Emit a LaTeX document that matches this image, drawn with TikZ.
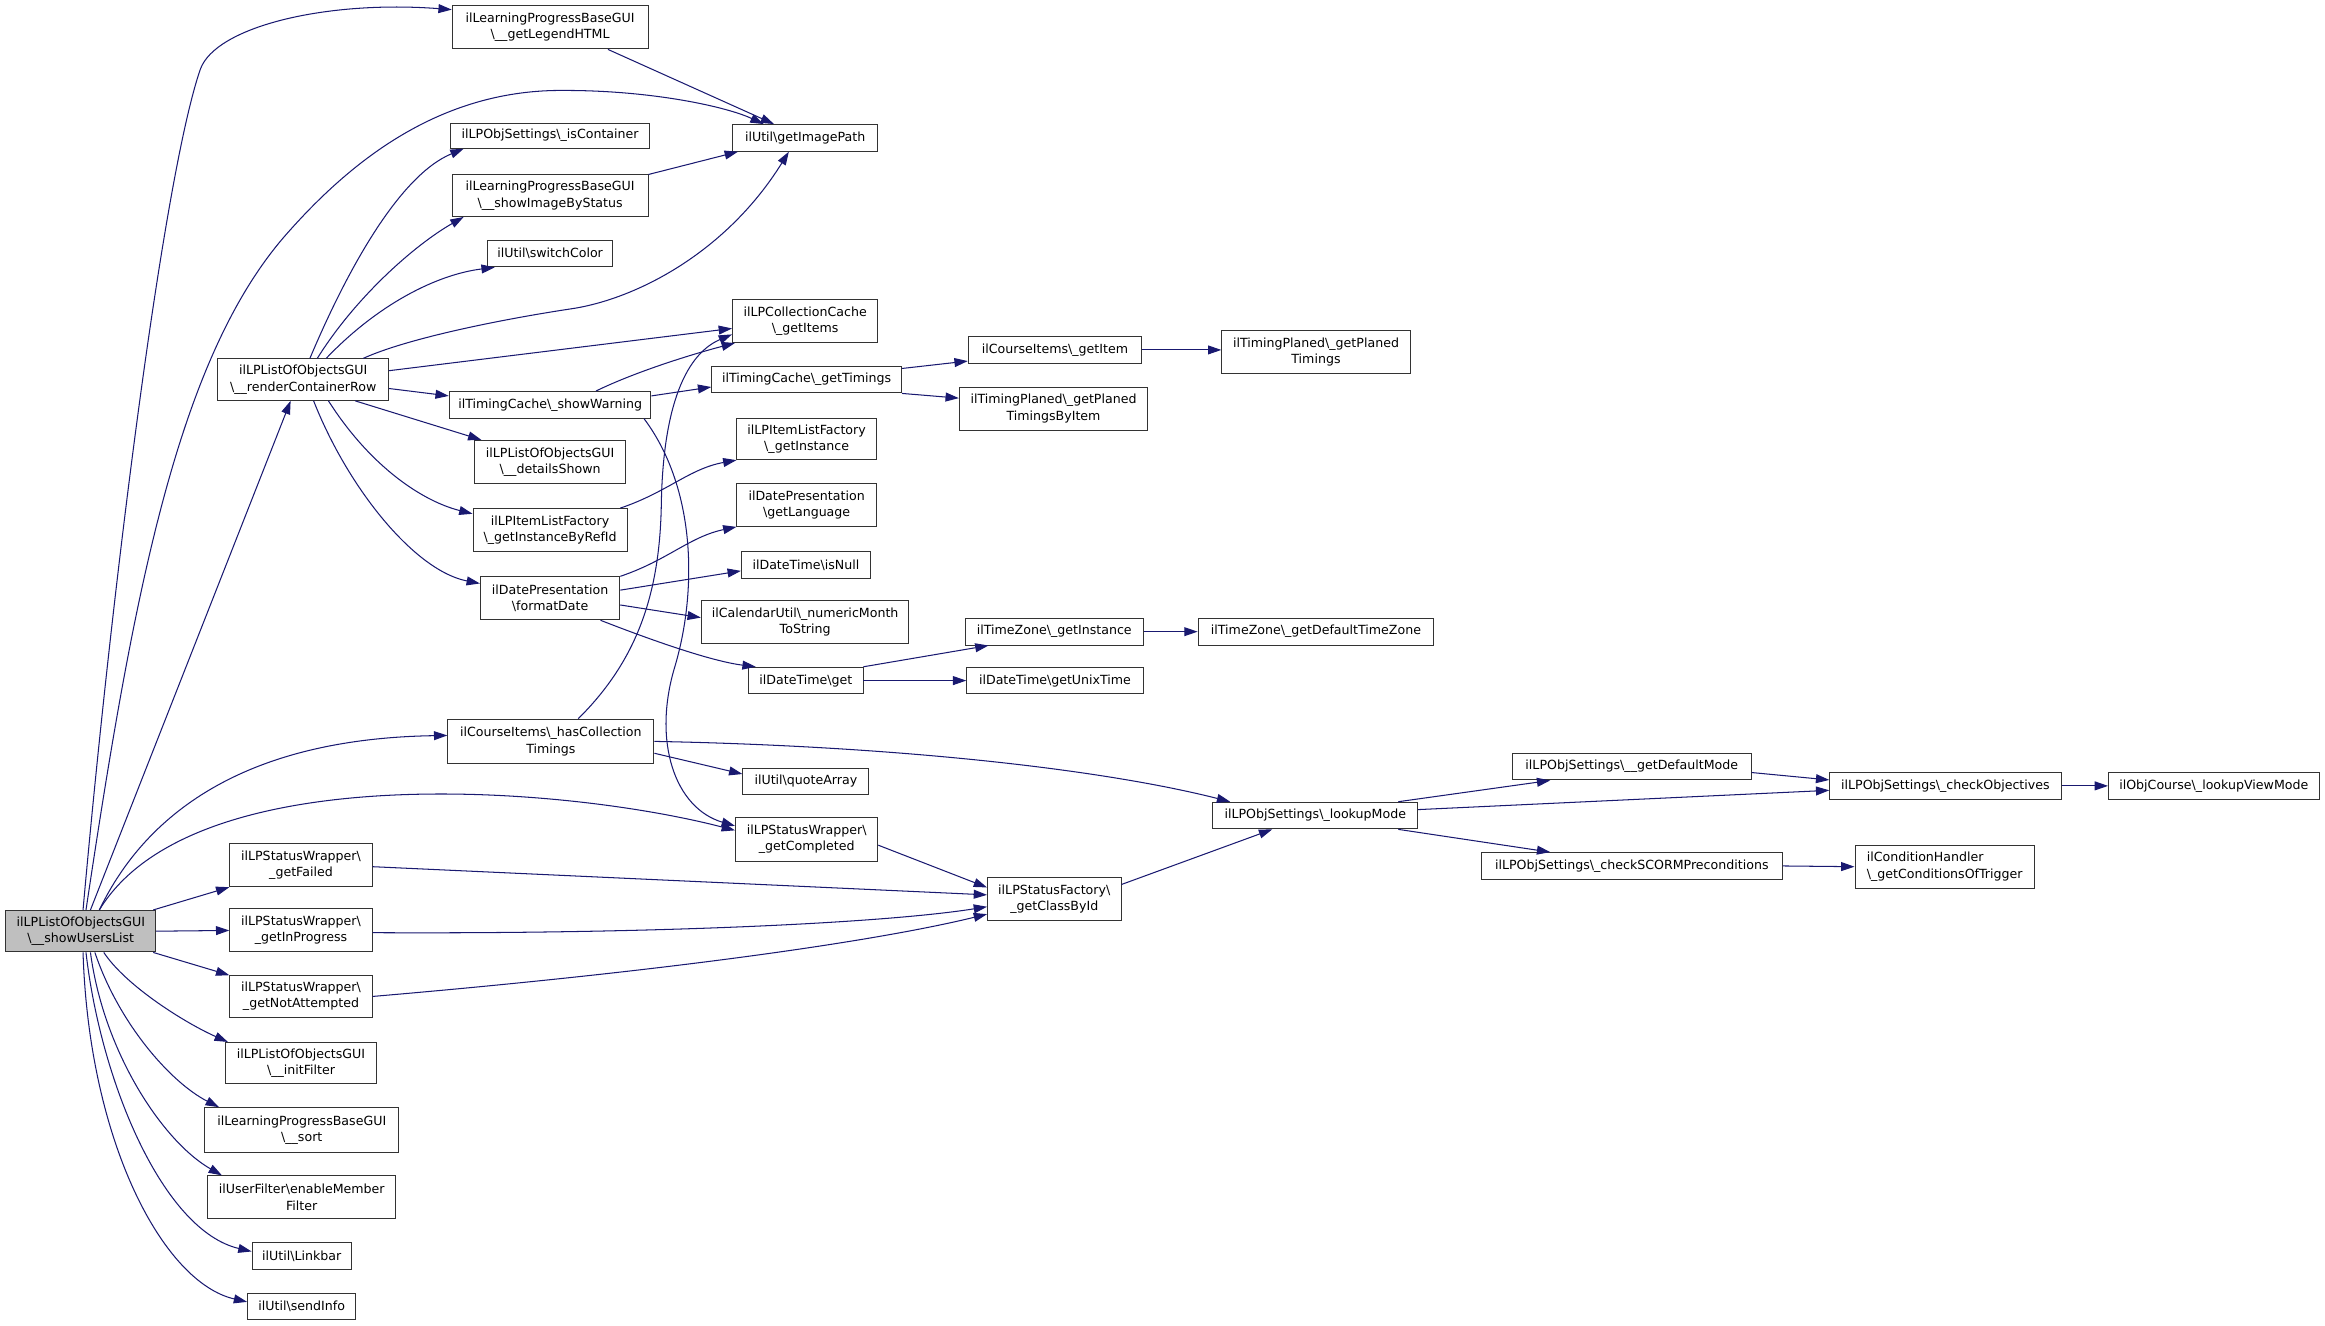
\documentclass[tikz,border=0pt]{standalone}
\usepackage{fontspec}
\setmainfont{DejaVu Sans}
\usetikzlibrary{arrows.meta}
\definecolor{edgeblue}{HTML}{191970}
\definecolor{curgray}{HTML}{BFBFBF}
\newcommand{\bksl}{\textbackslash}
\tikzset{
  fnbox/.style={draw=black!80, line width=0.65pt, fill=white, rectangle, inner sep=0pt, align=center, font=\fontsize{8.5}{11}\selectfont},
  fncur/.style={fnbox, fill=curgray},
  callarrow/.style={color=edgeblue, line width=0.7pt, -{Triangle[length=9pt,width=6pt]}}
}
\begin{document}
\begin{tikzpicture}[x=1pt, y=-1pt]
    \useasboundingbox (0,0) rectangle (1568,894);

    % Funcion de partida
    \node[fncur, minimum width=101pt, minimum height=28pt] (showusers) at (54.5,628) {ilLPListOfObjectsGUI\\\bksl\_\_showUsersList};

    % Primera columna
    \node[fnbox, minimum width=132pt, minimum height=29pt] (legend) at (371,18.5) {ilLearningProgressBaseGUI\\\bksl\_\_getLegendHTML};
    \node[fnbox, minimum width=115pt, minimum height=28pt] (render) at (204.5,256) {ilLPListOfObjectsGUI\\\bksl\_\_renderContainerRow};
    \node[fnbox, minimum width=139pt, minimum height=30pt] (hascollection) at (371.5,500) {ilCourseItems\bksl\_hasCollection\\Timings};
    \node[fnbox, minimum width=96pt, minimum height=29pt] (failed) at (203,583.5) {ilLPStatusWrapper\bksl\\\_getFailed};
    \node[fnbox, minimum width=96pt, minimum height=29pt] (inprogress) at (203,627.5) {ilLPStatusWrapper\bksl\\\_getInProgress};
    \node[fnbox, minimum width=96pt, minimum height=28pt] (notattempted) at (203,672) {ilLPStatusWrapper\bksl\\\_getNotAttempted};
    \node[fnbox, minimum width=102pt, minimum height=28pt] (initfilter) at (203,717) {ilLPListOfObjectsGUI\\\bksl\_\_initFilter};
    \node[fnbox, minimum width=131pt, minimum height=30pt] (sort) at (203.5,762) {ilLearningProgressBaseGUI\\\bksl\_\_sort};
    \node[fnbox, minimum width=127pt, minimum height=29pt] (memberfilter) at (203.5,807.5) {ilUserFilter\bksl enableMember\\Filter};
    \node[fnbox, minimum width=67pt, minimum height=18pt] (linkbar) at (203.5,847) {ilUtil\bksl Linkbar};
    \node[fnbox, minimum width=73pt, minimum height=18pt] (sendinfo) at (203.5,881) {ilUtil\bksl sendInfo};

    % Llamadas de renderContainerRow
    \node[fnbox, minimum width=134pt, minimum height=17pt] (iscontainer) at (371,91.5) {ilLPObjSettings\bksl\_isContainer};
    \node[fnbox, minimum width=132pt, minimum height=28pt] (imagebystatus) at (371,132) {ilLearningProgressBaseGUI\\\bksl\_\_showImageByStatus};
    \node[fnbox, minimum width=84pt, minimum height=18pt] (switchcolor) at (371,171) {ilUtil\bksl switchColor};
    \node[fnbox, minimum width=136pt, minimum height=18pt] (showwarning) at (371,273) {ilTimingCache\bksl\_showWarning};
    \node[fnbox, minimum width=102pt, minimum height=29pt] (detailsshown) at (371,311.5) {ilLPListOfObjectsGUI\\\bksl\_\_detailsShown};
    \node[fnbox, minimum width=104pt, minimum height=29pt] (byrefid) at (371,357.5) {ilLPItemListFactory\\\bksl\_getInstanceByRefId};
    \node[fnbox, minimum width=94pt, minimum height=29pt] (formatdate) at (371,403.5) {ilDatePresentation\\\bksl formatDate};

    % Segunda columna
    \node[fnbox, minimum width=98pt, minimum height=18pt] (imagepath) at (543,93) {ilUtil\bksl getImagePath};
    \node[fnbox, minimum width=98pt, minimum height=29pt] (collcache) at (543,216.5) {ilLPCollectionCache\\\bksl\_getItems};
    \node[fnbox, minimum width=128pt, minimum height=18pt] (gettimings) at (544,256) {ilTimingCache\bksl\_getTimings};
    \node[fnbox, minimum width=94pt, minimum height=28pt] (itemlistinst) at (544,296) {ilLPItemListFactory\\\bksl\_getInstance};
    \node[fnbox, minimum width=94pt, minimum height=29pt] (getlanguage) at (544,340.5) {ilDatePresentation\\\bksl getLanguage};
    \node[fnbox, minimum width=87pt, minimum height=18pt] (isnull) at (543.5,381) {ilDateTime\bksl isNull};
    \node[fnbox, minimum width=140pt, minimum height=29pt] (monthtostring) at (543,419.5) {ilCalendarUtil\bksl\_numericMonth\\ToString};
    \node[fnbox, minimum width=77pt, minimum height=18pt] (dtget) at (543.5,459) {ilDateTime\bksl get};
    \node[fnbox, minimum width=85pt, minimum height=18pt] (quotearray) at (543.5,527) {ilUtil\bksl quoteArray};
    \node[fnbox, minimum width=96pt, minimum height=30pt] (completed) at (544,566) {ilLPStatusWrapper\bksl\\\_getCompleted};

    % Tercera columna
    \node[fnbox, minimum width=117pt, minimum height=18pt] (getitem) at (711.5,236) {ilCourseItems\bksl\_getItem};
    \node[fnbox, minimum width=127pt, minimum height=29pt] (planedbyitem) at (710.5,275.5) {ilTimingPlaned\bksl\_getPlaned\\TimingsByItem};
    \node[fnbox, minimum width=120pt, minimum height=18pt] (tzinstance) at (711,426) {ilTimeZone\bksl\_getInstance};
    \node[fnbox, minimum width=119pt, minimum height=18pt] (unixtime) at (711.5,459) {ilDateTime\bksl getUnixTime};
    \node[fnbox, minimum width=90pt, minimum height=29pt] (classbyid) at (711,606.5) {ilLPStatusFactory\bksl\\\_getClassById};

    % Cuarta columna y siguientes
    \node[fnbox, minimum width=127pt, minimum height=29pt] (planedtimings) at (887.5,237.5) {ilTimingPlaned\bksl\_getPlaned\\Timings};
    \node[fnbox, minimum width=159pt, minimum height=18pt] (tzdefault) at (887.5,426) {ilTimeZone\bksl\_getDefaultTimeZone};
    \node[fnbox, minimum width=138pt, minimum height=18pt] (lookupmode) at (887,550) {ilLPObjSettings\bksl\_lookupMode};
    \node[fnbox, minimum width=161pt, minimum height=18pt] (defaultmode) at (1100.5,517) {ilLPObjSettings\bksl\_\_getDefaultMode};
    \node[fnbox, minimum width=203pt, minimum height=18pt] (scorm) at (1100.5,584) {ilLPObjSettings\bksl\_checkSCORMPreconditions};
    \node[fnbox, minimum width=156pt, minimum height=18pt] (checkobj) at (1312,530) {ilLPObjSettings\bksl\_checkObjectives};
    \node[fnbox, minimum width=121pt, minimum height=29pt, align=left] (trigger) at (1311.5,584.5) {ilConditionHandler\\\bksl\_getConditionsOfTrigger};
    \node[fnbox, minimum width=142pt, minimum height=18pt] (viewmode) at (1493,530) {ilObjCourse\bksl\_lookupViewMode};

    % Llamadas desde showUsersList
    \draw[callarrow] ([xshift=1.5pt]showusers.north) .. controls (75,400) and (110,120) .. (135,47) .. controls (145,18) and (220,0) .. ([yshift=12pt]legend.west);
    \draw[callarrow] ([xshift=3.5pt]showusers.north) .. controls (90,400) and (120,240) .. (194,157) .. controls (240,105) and (300,60) .. (381,61) .. controls (440,61) and (490,72) .. ([xshift=-28pt]imagepath.north);
    \draw[callarrow] ([xshift=6.5pt]showusers.north) -- ([xshift=-8.5pt]render.south);
    \draw[callarrow] ([xshift=12.5pt]showusers.north) .. controls (100,545) and (170,498) .. ([yshift=4pt]hascollection.west);
    \draw[callarrow] ([xshift=12.5pt]showusers.north) .. controls (130,510) and (380,530) .. ([yshift=6pt]completed.west);
    \draw[callarrow] ([xshift=-2pt]showusers.north east) -- (failed.south west);
    \draw[callarrow] (showusers.east) -- (inprogress.west);
    \draw[callarrow] ([xshift=-2pt]showusers.south east) -- (notattempted.north west);
    \draw[callarrow] ([xshift=15.5pt]showusers.south) .. controls (85,665) and (125,690) .. ([xshift=2pt]initfilter.north west);
    \draw[callarrow] ([xshift=9.5pt]showusers.south) .. controls (80,690) and (115,730) .. ([xshift=10pt]sort.north west);
    \draw[callarrow] ([xshift=6.5pt]showusers.south) .. controls (70,710) and (110,770) .. ([xshift=10pt]memberfilter.north west);
    \draw[callarrow] ([xshift=3.5pt]showusers.south) .. controls (68,730) and (110,830) .. ([yshift=3pt]linkbar.west);
    \draw[callarrow] ([xshift=1.5pt]showusers.south) .. controls (60,770) and (110,865) .. ([yshift=3pt]sendinfo.west);

    % Llamadas desde renderContainerRow
    \draw[callarrow] ([xshift=4.5pt]render.north) .. controls (235,180) and (270,118) .. ([xshift=9pt]iscontainer.south west);
    \draw[callarrow] ([xshift=9.5pt]render.north) .. controls (240,200) and (280,165) .. ([xshift=8pt]imagebystatus.south west);
    \draw[callarrow] ([xshift=15.5pt]render.north) .. controls (255,205) and (295,185) .. ([xshift=5pt]switchcolor.south west);
    \draw[callarrow] ([xshift=40.5pt]render.north) .. controls (275,228) and (340,215) .. (387,208) .. controls (430,201) and (490,170) .. ([xshift=-11pt]imagepath.south);
    \draw[callarrow] ([yshift=6pt]render.east) -- ([yshift=-5pt]collcache.west);
    \draw[callarrow] ([yshift=-6pt]render.east) -- ([yshift=6pt]showwarning.west);
    \draw[callarrow] ([xshift=35pt]render.south) -- ([xshift=5pt]detailsshown.north west);
    \draw[callarrow] ([xshift=17pt]render.south) .. controls (250,315) and (285,338) .. ([yshift=11pt]byrefid.west);
    \draw[callarrow] ([xshift=7pt]render.south) .. controls (235,330) and (280,385) .. ([yshift=10pt]formatdate.west);

    % Otras llamadas
    \draw[callarrow] ([xshift=39pt]legend.south) -- ([xshift=-21pt]imagepath.north);
    \draw[callarrow] (imagebystatus.north east) -- ([xshift=4pt]imagepath.south west);
    \draw[callarrow] ([xshift=31pt]showwarning.north) .. controls (430,250) and (470,238) .. ([xshift=2pt]collcache.south west);
    \draw[callarrow] ([yshift=6pt]showwarning.east) -- ([yshift=-5pt]gettimings.west);
    \draw[callarrow] ([xshift=-5pt]showwarning.south east) .. controls (470,330) and (470,400) .. (455,450) .. controls (440,500) and (455,545) .. ([yshift=9pt]completed.west);
    \draw[callarrow] ([yshift=7.5pt]gettimings.east) -- ([yshift=-7.5pt]getitem.west);
    \draw[callarrow] (gettimings.south east) -- ([yshift=7pt]planedbyitem.west);
    \draw[callarrow] (getitem.east) -- ([yshift=1.5pt]planedtimings.west);
    \draw[callarrow] ([xshift=-5pt]byrefid.north east) .. controls (450,332) and (465,316) .. (itemlistinst.south west);
    \draw[callarrow] (formatdate.north east) .. controls (450,378) and (465,362) .. (getlanguage.south west);
    \draw[callarrow] ([yshift=5.5pt]formatdate.east) -- ([yshift=-4pt]isnull.west);
    \draw[callarrow] ([yshift=-4.5pt]formatdate.east) -- ([yshift=3pt]monthtostring.west);
    \draw[callarrow] ([xshift=34pt]formatdate.south) .. controls (440,432) and (480,446) .. ([xshift=5pt]dtget.north west);
    \draw[callarrow] (dtget.north east) -- ([xshift=16pt]tzinstance.south west);
    \draw[callarrow] (dtget.east) -- (unixtime.west);
    \draw[callarrow] (tzinstance.east) -- (tzdefault.west);
    \draw[callarrow] ([xshift=18.5pt]hascollection.north) .. controls (430,445) and (445,400) .. (446,340) .. controls (447,280) and (460,240) .. ([yshift=-9pt]collcache.west);
    \draw[callarrow] ([yshift=-8pt]hascollection.east) -- ([yshift=5pt]quotearray.west);
    \draw[callarrow] (hascollection.east) .. controls (600,503) and (740,518) .. ([xshift=12pt]lookupmode.north west);
    \draw[callarrow] ([yshift=-4pt]completed.east) -- ([yshift=8pt]classbyid.west);
    \draw[callarrow] ([yshift=-1pt]failed.east) -- ([yshift=3pt]classbyid.west);
    \draw[callarrow] ([yshift=-1.5pt]inprogress.east) .. controls (450,630) and (600,622) .. ([yshift=-5pt]classbyid.west);
    \draw[callarrow] (notattempted.east) .. controls (450,655) and (590,635) .. ([yshift=-10pt]classbyid.west);
    \draw[callarrow] ([yshift=10pt]classbyid.east) -- ([xshift=-29pt]lookupmode.south);
    \draw[callarrow] ([xshift=56pt]lookupmode.north) -- ([xshift=-55pt]defaultmode.south);
    \draw[callarrow] ([yshift=4pt]lookupmode.east) -- ([yshift=-3pt]checkobj.west);
    \draw[callarrow] ([xshift=56pt]lookupmode.south) -- ([xshift=-55pt]scorm.north);
    \draw[callarrow] ([yshift=-4pt]defaultmode.east) -- ([yshift=4pt]checkobj.west);
    \draw[callarrow] (checkobj.east) -- (viewmode.west);
    \draw[callarrow] (scorm.east) -- (trigger.west);
  \end{tikzpicture}
\end{document}
